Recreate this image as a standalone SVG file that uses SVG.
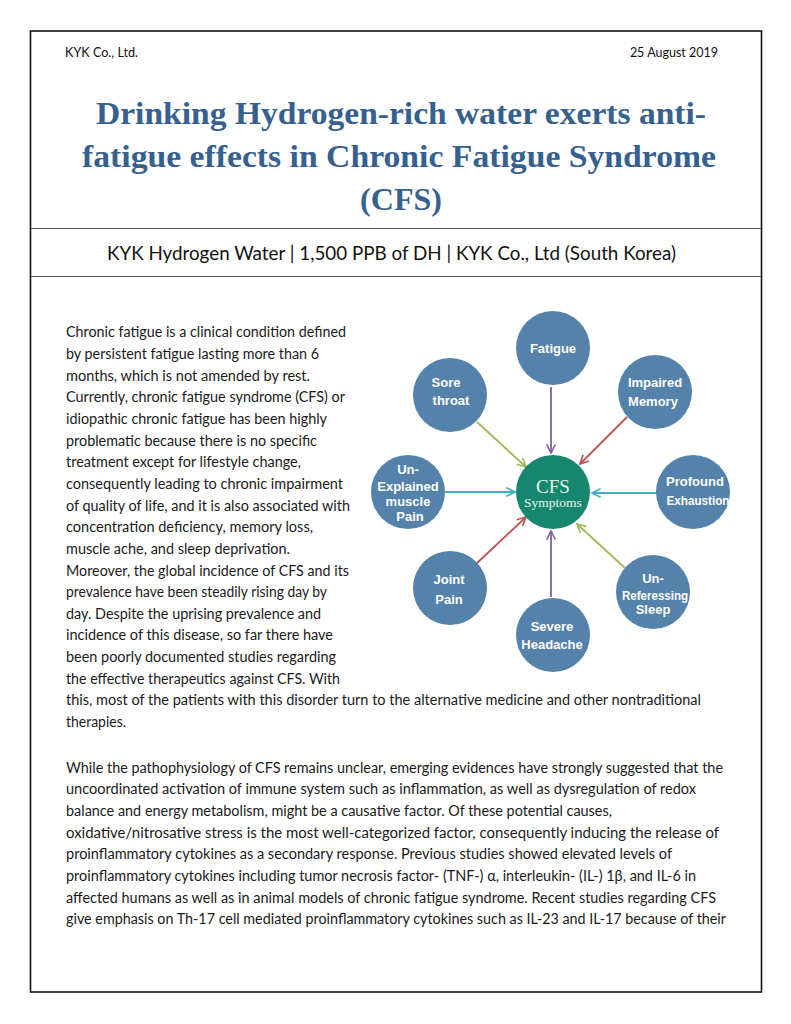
<svg xmlns="http://www.w3.org/2000/svg" width="791" height="1024" viewBox="0 0 791 1024">
<style>
.hdr{font-family:Lato,"Liberation Sans",sans-serif;font-size:12.5px;fill:#111}
.title{font-family:"Liberation Serif",serif;font-weight:bold;font-size:32px;fill:#35608F;text-anchor:middle}
.sub{font-family:Lato,"Liberation Sans",sans-serif;font-size:18.5px;fill:#111;text-anchor:middle}
.body{font-family:Lato,"Liberation Sans",sans-serif;font-size:14.5px;fill:#1a1a1a}
.node{fill:#5482AB}
.lbl{font-family:"Liberation Sans",Arial,sans-serif;font-weight:bold;font-size:13px;fill:#fff;text-anchor:middle}
.cfs{font-family:"Liberation Serif",serif;fill:#E6F3EC;text-anchor:middle}
.c{stroke-width:1.8;fill:none}
</style>
<defs>
<marker id="aP" viewBox="0 0 10 10" refX="9" refY="5" markerWidth="6" markerHeight="6" orient="auto" markerUnits="strokeWidth"><path d="M1,1 L9,5 L1,9" fill="none" stroke="#7E60A8" stroke-width="1.5"/></marker>
<marker id="aG" viewBox="0 0 10 10" refX="9" refY="5" markerWidth="6" markerHeight="6" orient="auto" markerUnits="strokeWidth"><path d="M1,1 L9,5 L1,9" fill="none" stroke="#9BBB59" stroke-width="1.5"/></marker>
<marker id="aR" viewBox="0 0 10 10" refX="9" refY="5" markerWidth="6" markerHeight="6" orient="auto" markerUnits="strokeWidth"><path d="M1,1 L9,5 L1,9" fill="none" stroke="#C0504D" stroke-width="1.5"/></marker>
<marker id="aT" viewBox="0 0 10 10" refX="9" refY="5" markerWidth="6" markerHeight="6" orient="auto" markerUnits="strokeWidth"><path d="M1,1 L9,5 L1,9" fill="none" stroke="#4BACC6" stroke-width="1.5"/></marker>
</defs>
<rect x="0" y="0" width="791" height="1024" fill="#fff"/>
<rect x="30.5" y="31" width="731" height="961" fill="none" stroke="#111" stroke-width="1.6"/>
<g id="header">
<text class="hdr" x="65" y="57" textLength="73" lengthAdjust="spacingAndGlyphs">KYK Co., Ltd.</text>
<text class="hdr" x="718" y="57" text-anchor="end">25 August 2019</text>
<text class="title" x="401" y="124" textLength="610" lengthAdjust="spacingAndGlyphs">Drinking Hydrogen-rich water exerts anti-</text>
<text class="title" x="399" y="167" textLength="634" lengthAdjust="spacingAndGlyphs">fatigue effects in Chronic Fatigue Syndrome</text>
<text class="title" x="401" y="210">(CFS)</text>
<line x1="31" y1="228.5" x2="761" y2="228.5" stroke="#555" stroke-width="1"/>
<text class="sub" x="391.5" y="260" textLength="569" lengthAdjust="spacingAndGlyphs">KYK Hydrogen Water | 1,500 PPB of DH | KYK Co., Ltd (South Korea)</text>
<line x1="31" y1="276.5" x2="761" y2="276.5" stroke="#555" stroke-width="1"/>
</g>
<g id="para1" class="body">
<text x="66" y="337.3" textLength="280" lengthAdjust="spacingAndGlyphs">Chronic fatigue is a clinical condition defined</text>
<text x="66" y="359" textLength="253" lengthAdjust="spacingAndGlyphs">by persistent fatigue lasting more than 6</text>
<text x="66" y="380.6" textLength="244" lengthAdjust="spacingAndGlyphs">months, which is not amended by rest.</text>
<text x="66" y="402.3" textLength="279" lengthAdjust="spacingAndGlyphs">Currently, chronic fatigue syndrome (CFS) or</text>
<text x="66" y="423.9" textLength="261" lengthAdjust="spacingAndGlyphs">idiopathic chronic fatigue has been highly</text>
<text x="66" y="445.6" textLength="251" lengthAdjust="spacingAndGlyphs">problematic because there is no specific</text>
<text x="66" y="467.2" textLength="235" lengthAdjust="spacingAndGlyphs">treatment except for lifestyle change,</text>
<text x="66" y="488.9" textLength="277" lengthAdjust="spacingAndGlyphs">consequently leading to chronic impairment</text>
<text x="66" y="510.5" textLength="284" lengthAdjust="spacingAndGlyphs">of quality of life, and it is also associated with</text>
<text x="66" y="532.2" textLength="247" lengthAdjust="spacingAndGlyphs">concentration deficiency, memory loss,</text>
<text x="66" y="553.8" textLength="224" lengthAdjust="spacingAndGlyphs">muscle ache, and sleep deprivation.</text>
<text x="66" y="575.5" textLength="283" lengthAdjust="spacingAndGlyphs">Moreover, the global incidence of CFS and its</text>
<text x="66" y="597.1" textLength="261" lengthAdjust="spacingAndGlyphs">prevalence have been steadily rising day by</text>
<text x="66" y="618.8" textLength="255" lengthAdjust="spacingAndGlyphs">day. Despite the uprising prevalence and</text>
<text x="66" y="640.4" textLength="267" lengthAdjust="spacingAndGlyphs">incidence of this disease, so far there have</text>
<text x="66" y="662.1" textLength="270" lengthAdjust="spacingAndGlyphs">been poorly documented studies regarding</text>
<text x="66" y="683.7" textLength="274" lengthAdjust="spacingAndGlyphs">the effective therapeutics against CFS. With</text>
<text x="66" y="705.4" textLength="635" lengthAdjust="spacingAndGlyphs">this, most of the patients with this disorder turn to the alternative medicine and other nontraditional</text>
<text x="66" y="727" textLength="60" lengthAdjust="spacingAndGlyphs">therapies.</text>
</g>
<g id="para2" class="body">
<text x="66" y="772.7" textLength="657" lengthAdjust="spacingAndGlyphs">While the pathophysiology of CFS remains unclear, emerging evidences have strongly suggested that the</text>
<text x="66" y="794.4" textLength="630" lengthAdjust="spacingAndGlyphs">uncoordinated activation of immune system such as inflammation, as well as dysregulation of redox</text>
<text x="66" y="816" textLength="546" lengthAdjust="spacingAndGlyphs">balance and energy metabolism, might be a causative factor. Of these potential causes,</text>
<text x="66" y="837.7" textLength="653" lengthAdjust="spacingAndGlyphs">oxidative/nitrosative stress is the most well-categorized factor, consequently inducing the release of</text>
<text x="66" y="859.3" textLength="606" lengthAdjust="spacingAndGlyphs">proinflammatory cytokines as a secondary response.  Previous studies showed elevated levels of</text>
<text x="66" y="881" textLength="630" lengthAdjust="spacingAndGlyphs">proinflammatory cytokines including tumor necrosis factor- (TNF-) α, interleukin- (IL-) 1β, and IL-6 in</text>
<text x="66" y="902.6" textLength="650" lengthAdjust="spacingAndGlyphs">affected humans as well as in animal models of chronic fatigue syndrome. Recent studies regarding CFS</text>
<text x="66" y="924.3" textLength="660" lengthAdjust="spacingAndGlyphs">give emphasis on Th-17 cell mediated proinflammatory cytokines such as IL-23 and IL-17 because of their</text>
</g>
<g id="connectors">
<line class="c" x1="551" y1="387" x2="551" y2="453" stroke="#7E60A8" marker-end="url(#aP)"/>
<line class="c" x1="551" y1="597" x2="551" y2="531" stroke="#7E60A8" marker-end="url(#aP)"/>
<line class="c" x1="477" y1="422" x2="526" y2="467" stroke="#9BBB59" marker-end="url(#aG)"/>
<line class="c" x1="625" y1="568" x2="577" y2="524" stroke="#9BBB59" marker-end="url(#aG)"/>
<line class="c" x1="627" y1="417" x2="580" y2="464" stroke="#C0504D" marker-end="url(#aR)"/>
<line class="c" x1="475" y1="565" x2="526" y2="517" stroke="#C0504D" marker-end="url(#aR)"/>
<line class="c" x1="445" y1="492" x2="515" y2="492" stroke="#4BACC6" marker-end="url(#aT)"/>
<line class="c" x1="658" y1="493" x2="592" y2="493" stroke="#4BACC6" marker-end="url(#aT)"/>
</g>
<g id="cfs">
<circle cx="553" cy="492" r="37" fill="#16876E"/>
<text class="cfs" x="553" y="493" font-size="19">CFS</text>
<text class="cfs" x="553" y="507" font-size="13.5">Symptoms</text>
</g>
<g id="fatigue">
<circle class="node" cx="553" cy="348" r="37"/>
<text class="lbl" x="553" y="353">Fatigue</text>
</g>
<g id="sore-throat">
<circle class="node" cx="450" cy="395" r="37"/>
<text class="lbl" x="446" y="387">Sore</text>
<text class="lbl" x="451" y="405">throat</text>
</g>
<g id="impaired-memory">
<circle class="node" cx="655" cy="392" r="37"/>
<text class="lbl" x="655" y="387">Impaired</text>
<text class="lbl" x="653" y="406">Memory</text>
</g>
<g id="unexplained-muscle-pain">
<circle class="node" cx="408" cy="492" r="37"/>
<text class="lbl" x="408" y="474">Un-</text>
<text class="lbl" x="408" y="491">Explained</text>
<text class="lbl" x="408" y="506">muscle</text>
<text class="lbl" x="410" y="521">Pain</text>
</g>
<g id="profound-exhaustion">
<circle class="node" cx="693" cy="492" r="37"/>
<text class="lbl" x="695" y="486">Profound</text>
<text class="lbl" x="698" y="505" textLength="63" lengthAdjust="spacingAndGlyphs">Exhaustion</text>
</g>
<g id="joint-pain">
<circle class="node" cx="450" cy="588" r="37"/>
<text class="lbl" x="449" y="584">Joint</text>
<text class="lbl" x="449" y="604">Pain</text>
</g>
<g id="severe-headache">
<circle class="node" cx="553" cy="635" r="37"/>
<text class="lbl" x="552" y="631">Severe</text>
<text class="lbl" x="552" y="649">Headache</text>
</g>
<g id="unrefreshing-sleep">
<circle class="node" cx="653" cy="592" r="37"/>
<text class="lbl" x="653" y="583">Un-</text>
<text class="lbl" x="655" y="600" textLength="66" lengthAdjust="spacingAndGlyphs">Referessing</text>
<text class="lbl" x="653" y="614">Sleep</text>
</g>
</svg>
